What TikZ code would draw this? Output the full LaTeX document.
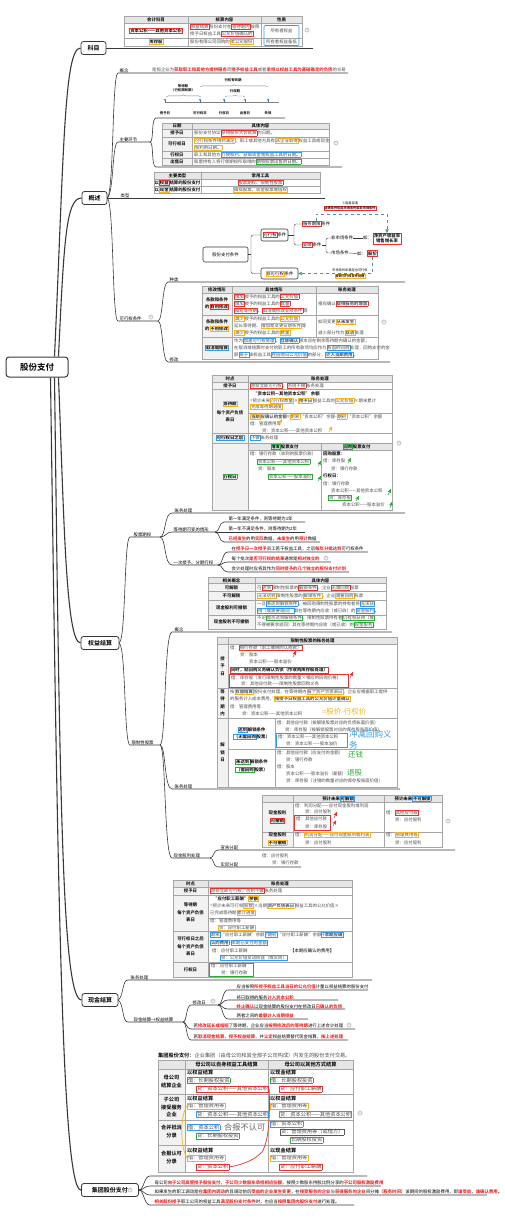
\documentclass[tikz,border=0pt]{standalone}
\usepackage{fontspec}
\setmainfont{Noto Sans CJK SC}[BoldFont={Noto Sans CJK SC Bold}]
\usetikzlibrary{positioning, arrows, decorations.pathreplacing}
\definecolor{lineclr}{HTML}{383838}
\definecolor{gridclr}{HTML}{A6A6A6}
\definecolor{hdrclr}{HTML}{E6E6E6}
\definecolor{colclr}{HTML}{F2F2F2}
\definecolor{txtgray}{HTML}{4A4A4A}
\definecolor{hlred}{HTML}{E8312B}
\definecolor{txred}{HTML}{F01010}
\definecolor{hlora}{HTML}{F5B41E}
\definecolor{hlblu}{HTML}{2E9BEF}
\definecolor{hlgrn}{HTML}{2FA83A}
\definecolor{dashclr}{HTML}{4F8E9C}
\newcommand\fs{\fontsize{4.4}{5.2}\selectfont}
\newcommand\fg{\fontsize{5.2}{6}\selectfont}
\newcommand\bx[2]{{\colorlet{bxsave}{.}\setlength\fboxsep{.35pt}\setlength\fboxrule{.45pt}\color{#1}\fbox{\color{bxsave}#2}}}
\newcommand\rb[1]{{\bfseries\color{txred}#1}}
\tikzset{
  root/.style={draw=lineclr, line width=1pt, rounded corners=3pt, fill=white, font=\fontsize{8.5}{9}\selectfont\bfseries, minimum width=62pt, minimum height=20pt},
  topic/.style={draw=lineclr, line width=.8pt, rounded corners=2.5pt, fill=white, font=\fontsize{6}{7}\selectfont\bfseries, minimum height=13pt, inner xsep=3pt},
  mainline/.style={line width=1.1pt, draw=lineclr},
  subline/.style={line width=.6pt, draw=lineclr},
  lab/.style={anchor=south west, inner sep=.4pt, font=\fs, text=black},
  tx/.style={anchor=west, inner sep=0pt, font=\fs, text=txtgray},
  hd/.style={inner sep=0pt, font=\fs\bfseries, text=black},
  vt/.style={inner sep=0pt, align=center, font=\fontsize{4.4}{7.5}\selectfont\bfseries},
  cell/.style={draw=gridclr, line width=.35pt},
  cnode/.style={draw=lineclr, line width=.6pt, rounded corners=2pt, fill=white, font=\fs, inner sep=0pt},
  note/.style={inner sep=0pt, anchor=west},
  mk/.style={circle, fill=gray!30, draw=gray!55, line width=.3pt, minimum size=4.4pt, inner sep=0pt,
    path picture={\draw[white, line width=.6pt] ([xshift=-1.3pt]path picture bounding box.center) -- ([xshift=1.3pt]path picture bounding box.center);}},
  hlarrow/.style={->, >=stealth', line width=.5pt}
}
\begin{document}
\begin{tikzpicture}[x=1pt, y=-1pt]
\useasboundingbox (0,0) rectangle (504,1219);

% root and main topics
\node[root] (root) at (37,367) {股份支付};
\node[topic, minimum width=25pt] (kemu) at (93.5,48) {科目};
\node[topic, minimum width=25pt] (gaishu) at (94.5,198) {概述};
\node[topic, minimum width=38pt] (quanyi) at (100,643) {权益结算};
\node[topic, minimum width=36pt] (xianjin) at (100,1000) {现金结算};
\node[topic, minimum width=57pt, anchor=west] (jituan) at (81,1190) {集团股份支付\hspace{6pt}};

\draw[mainline] ([xshift=-14pt]root.north east) .. controls (64,150) and (64,48) .. (kemu.west);
\draw[mainline] ([xshift=-10pt]root.north east) .. controls (64,240) and (66,198) .. (gaishu.west);
\draw[mainline] ([xshift=-10pt]root.south east) .. controls (64,520) and (66,643) .. (quanyi.west);
\draw[mainline] ([xshift=-14pt]root.south east) .. controls (60,800) and (62,1000) .. (xianjin.west);
\draw[mainline] ([xshift=-18pt]root.south east) .. controls (58,900) and (62,1190) .. (jituan.west);

% ---------------- 科目
\draw[subline] (kemu.east) -- (313,48);
\fill[hdrclr] (124,16) rectangle (302,23);
\draw[cell] (124,16) rectangle (302,46) (124,23) -- (302,23) (124,38) -- (302,38) (188,16) -- (188,46) (261,16) -- (261,46);
\node[hd] (k1) at (156,19.5) {会计科目};
\node[hd] (k2) at (224.5,19.5) {核算内容};
\node[hd] (k3) at (281.5,19.5) {性质};
\node[hd] (k4) at (156,30.5) {\bx{hlred}{资本公积——其他资本公积}};
\node[tx] (k5) at (190,27) {\bx{hlred}{权益结算}股份支付在\bx{hlred}{等待期内}按照};
\node[tx] (k6) at (190,34) {授予日权益工具\bx{hlred}{公允价值确认的}};
\node[tx, anchor=center] (k7) at (281.5,30.5) {所有者权益};
\node[hd] (k8) at (156,42) {\bx{hlora}{库存股}};
\node[tx] (k9) at (190,42) {股份有限公司回购的\bx{hlora}{本公司股份}};
\node[tx, anchor=center] (k10) at (281.5,42) {所有者权益备抵};
\draw[hlblu, line width=.6pt, rounded corners=1pt] (264,25.5) rectangle (299,45.5);
\node[mk] (m1) at (307,30) {};

% ---------------- 概述
\draw[subline] (gaishu.east) .. controls (114,190) and (112,73) .. (118,73) -- (348,73);
\draw[subline] (gaishu.east) .. controls (114,192) and (112,142) .. (118,142) -- (150,142);
\draw[subline] (gaishu.east) -- (325,198);
\draw[subline] (gaishu.east) .. controls (114,205) and (112,321) .. (118,321) -- (158,321);
\draw[subline] (150,142) .. controls (154,142) and (151,118) .. (156,118) -- (285,118);
\draw[subline] (150,142) .. controls (154,142) and (151,167) .. (156,167) -- (342,167);
\draw[subline] (158,321) .. controls (163,321) and (162,282) .. (168,282) -- (405,282);
\draw[subline] (158,321) .. controls (163,321) and (162,362) .. (168,362) -- (390,362);
\node[lab] (gn) at (119,73) {概念};
\node[tx] (gnt) at (152,69.5) {是指企业为\rb{获取职工和其他方提供服务}而\rb{授予权益工具}或者\rb{承担以权益工具为基础确定的负债}的交易};
\node[lab] (zyhj) at (119,142) {主要环节};
\node[lab] (lx) at (120,198) {类型};
\node[lab] (kxtj) at (119,321) {可行权条件};
\node[mk] (m2) at (151,317) {};
\node[lab] (zl) at (169,282) {种类};
\node[lab] (xg) at (169,362) {修改};

% timeline
\draw[gray, line width=.4pt] (165,102) -- (279,102);
\foreach \x/\t [count=\i] in {165/授予日, 200/可行权日, 224/行权日, 245/出售日, 268/失效}{
  \draw[hlblu!70!black, line width=.4pt] (\x,102) -- (\x,100);
  \fill[hlblu!80!gray] (\x,99.7) circle (1.1);
  \node[font=\fontsize{3.4}{4}\selectfont\bfseries, inner sep=0pt] (tl\i) at (\x,113) {\t};
}
\draw[decorate, decoration={brace, amplitude=2.2pt}, gray] (166,97) -- (201,97);
\node[font=\fontsize{3.4}{4.2}\selectfont\bfseries, align=center, inner sep=0pt] (br1) at (183,88) {等待期\\（行权限制期）};
\draw[decorate, decoration={brace, amplitude=2.2pt}, gray] (200,87) -- (268,87);
\node[font=\fontsize{3.4}{4.2}\selectfont\bfseries, inner sep=0pt] (br2) at (233,80) {行权有效期};
\draw[decorate, decoration={brace, amplitude=2pt}, gray] (225,97) -- (245,97);
\node[font=\fontsize{3.4}{4.2}\selectfont\bfseries, inner sep=0pt] (br3) at (235,91.5) {行权期};

% 日期 table
\fill[hdrclr] (162,123) rectangle (329,129.5);
\fill[colclr] (162,129.5) rectangle (192,165);
\draw[cell] (162,123) rectangle (329,165) (162,129.5) -- (329,129.5) (162,137) -- (329,137) (162,151) -- (329,151) (162,158) -- (329,158) (192,123) -- (192,165);
\node[hd] (d1) at (177,126.3) {日期};
\node[hd] (d2) at (260.5,126.3) {具体内容};
\node[hd] (d3) at (177,133.3) {授予日};
\node[hd] (d4) at (177,144) {可行权日};
\node[hd] (d5) at (177,154.5) {行权日};
\node[hd] (d6) at (177,161.5) {出售日};
\node[tx] (d7) at (194,133.3) {股份支付协议\bx{hlred}{获得股东大会批准}的日期。};
\node[tx] (d8) at (194,140.5) {\bx{hlora}{可行权条件得到满足}、职工或其他方具有\bx{hlora}{从企业取得}权益工具或现金};
\node[tx] (d9) at (194,147.5) {\bx{hlora}{权利的日期。}};
\node[tx] (d10) at (194,154.5) {职工和其他方\bx{hlblu}{行使权利、获取现金或权益工具的日期。}};
\node[tx] (d11) at (194,161.5) {股票持有人将行使期权所取得的\bx{hlgrn}{期权股票出售的日期。}};
\node[mk] (m3) at (336,143) {};

% 类型 table
\fill[hdrclr] (154,172) rectangle (320,179);
\draw[cell] (154,172) rectangle (320,193) (154,179) -- (320,179) (154,186) -- (320,186) (201,172) -- (201,193);
\node[hd] (y1) at (177.5,175.5) {主要类型};
\node[hd] (y2) at (260.5,175.5) {常用工具};
\node[hd] (y3) at (177.5,182.5) {以\bx{hlred}{权益}结算的股份支付};
\node[hd] (y4) at (177.5,189.5) {以\bx{hlora}{现金}结算的股份支付};
\node[tx, anchor=center] (y5) at (260.5,182.5) {\bx{hlred}{股票期权、限制性股票}};
\node[tx, anchor=center] (y6) at (260.5,189.5) {\bx{hlora}{模拟股票、现金股票增值权}};

% 股份支付条件
\node[cnode, minimum width=45pt, minimum height=15pt] (tj) at (225.5,254.5) {股份支付条件};
\node[cnode, minimum width=27pt, minimum height=12pt] (kx) at (274.5,235) {\bx{hlred}{可行权}条件};
\node[cnode, minimum width=37pt, minimum height=11pt] (fkx) at (279.5,273.5) {\bx{hlora}{非可行权}条件};
\node[tx, text=black] (fw) at (302,224) {\bx{hlred}{服务期限}条件};
\node[tx, text=black] (yj) at (302,245) {\bx{hlred}{业绩}条件};
\node[tx, text=black] (fsc) at (331,238) {非市场条件};
\node[tx, text=black] (sc) at (331,253) {市场条件};
\node[tx, text=black] (ru1) at (363,238) {如：};
\node[tx, text=black] (ru2) at (357,253.5) {如：};
\node[draw=hlred, line width=.6pt, font=\fs\bfseries, align=center, inner sep=.7pt] (jzc) at (387,238.5) {净资产收益率\\销售增长率};
\node[draw=hlred, line width=.6pt, font=\fs\bfseries, inner sep=.7pt] (gj) at (372.5,253.5) {股价};
\draw[lineclr, line width=.4pt] (tj.east) -- (251,254.5) coordinate (tjc);
\draw[lineclr, line width=.4pt, rounded corners=2pt] (tjc) |- (kx.west);
\draw[lineclr, line width=.4pt, rounded corners=2pt] (tjc) |- (fkx.west);
\draw[lineclr, line width=.4pt] (kx.east) -- (294,235) coordinate (kxc);
\draw[lineclr, line width=.4pt, rounded corners=2pt] (kxc) |- (fw.west);
\draw[lineclr, line width=.4pt, rounded corners=2pt] (kxc) |- (yj.west);
\draw[lineclr, line width=.4pt] (yj.east) -- (326,245) coordinate (yjc);
\draw[lineclr, line width=.4pt, rounded corners=2pt] (yjc) |- (fsc.west);
\draw[lineclr, line width=.4pt, rounded corners=2pt] (yjc) |- (sc.west);
\draw[lineclr, line width=.4pt] (fsc.east) -- (ru1.west);
\draw[lineclr, line width=.4pt] (sc.east) -- (ru2.west);
\draw[dashed, dashclr, line width=.45pt, ->, >=stealth'] (fw.north) -- ++(0,-7) -| (jzc.north);
\draw[dashed, dashclr, line width=.45pt, ->, >=stealth'] (gj.south) |- (fkx.east);
\node[font=\fontsize{3.2}{4}\selectfont, inner sep=0pt] (q1) at (350,203.5) {①容易混淆};
\node[draw=hlred, line width=.5pt, font=\fontsize{3.2}{4}\selectfont\bfseries, inner sep=.6pt] (q2) at (350,208.5) {业绩条件包括市场条件和非市场条件};
\node[font=\fontsize{3.2}{4}\selectfont, inner sep=0pt] (q3) at (350,270) {市场条件未满足也可行权};
\node[draw=hlora, line width=.5pt, font=\fontsize{3.2}{4}\selectfont\bfseries, inner sep=.6pt] (q4) at (350,276) {视同可行权条件处理};

% 修改 table
\fill[hdrclr] (202,286) rectangle (378,293);
\fill[colclr] (202,293) rectangle (232,359);
\draw[cell] (202,286) rectangle (378,359) (202,293) -- (378,293) (202,315) -- (378,315) (202,337) -- (378,337) (232,286) -- (232,359) (316,286) -- (316,337);
\node[hd] (g1) at (217,289.5) {修改情形};
\node[hd] (g2) at (274,289.5) {具体情形};
\node[hd] (g3) at (347,289.5) {账务处理};
\node[vt] (g4) at (217,303.5) {条款和条件\\的\bx{hlred}{有利修改}};
\node[tx] (g5) at (234,296.5) {\bx{hlred}{增加}授予的权益工具的\bx{hlred}{公允价值}};
\node[tx] (g6) at (234,303.5) {\bx{hlred}{增加}授予的权益工具的\bx{hlred}{数量}};
\node[tx] (g7) at (234,310.5) {\bx{hlred}{缩短等待期}、\bx{hlred}{取消或修改业绩条件}等};
\node[tx] (g8) at (318,303.5) {相应确认\bx{hlred}{\textbf{取得服务的增加}}};
\node[vt] (g9) at (217,325.5) {条款和条件\\的\bx{hlora}{不利修改}};
\node[tx] (g10) at (234,318.5) {\bx{hlora}{减少}授予的权益工具的\bx{hlora}{公允价值}};
\node[tx] (g11) at (234,325.5) {延长等待期、\bx{hlora}{增加或变更业绩条件}等};
\node[tx] (g12) at (234,333) {\bx{hlora}{减少}授予的权益工具的\bx{hlora}{数量}};
\node[tx] (g13) at (318,322) {如同变更\bx{hlora}{\textbf{从未发生}}};
\node[tx] (g14) at (318,333) {减少部分作为\bx{hlora}{\textbf{取消}}处理};
\node[hd] (g15) at (217,348) {\bx{hlblu}{取消或结算}};
\node[tx] (g16) at (234,340.5) {作为\bx{hlblu}{加速可行权处理}，\bx{hlblu}{\textbf{立即确认}}原本应在剩余等待期内确认的金额；};
\node[tx] (g17) at (234,348) {在取消或结算时支付给职工的所有款项均应作为\bx{hlblu}{权益的回购}处理，回购支付的金};
\node[tx] (g18) at (234,355) {额\bx{hlblu}{高于}该权益工具\bx{hlblu}{在回购日公允价值}的部分，\bx{hlblu}{\textbf{计入当期费用}}。};
\node[mk] (m4) at (384,322) {};

% ---------------- 权益结算
\draw[subline] (quanyi.east) .. controls (126,636) and (124,537) .. (130,537) -- (160,537);
\draw[subline] (quanyi.east) .. controls (126,650) and (124,745) .. (130,745) -- (160,745);
\node[lab] (gpqq) at (133,537) {股票期权};
\node[lab] (xzxgp) at (131,745) {限制性股票};
\draw[subline] (160,537) .. controls (166,537) and (164,513) .. (172,513) -- (405,513);
\draw[subline] (160,537) .. controls (166,537) and (166,532) .. (172,532) -- (215,532);
\draw[subline] (160,537) .. controls (166,537) and (164,565) .. (172,565) -- (218,565);
\node[lab] (zw1) at (174,513) {账务处理};
\node[lab] (dd) at (173,532) {等待期可变的情形};
\node[lab] (yc) at (173,565) {一次授予、分期行权};
\draw[subline] (215,532) .. controls (220,532) and (219,522) .. (224,522) -- (305,522);
\draw[subline] (215,532) -- (305,532);
\draw[subline] (215,532) .. controls (220,532) and (219,542) .. (224,542) -- (320,542);
\node[lab] (dd1) at (228,522) {第一年满足条件，则等待期为1年};
\node[lab] (dd2) at (228,532) {第一年不满足条件，则等待期为2年};
\node[lab] (dd3) at (228,542) {\rb{已经发生}的用\rb{实际}数据，\rb{未发生}的用\rb{预计}数据};
\draw[subline] (218,565) .. controls (223,565) and (222,552) .. (228,552) -- (368,552);
\draw[subline] (218,565) .. controls (223,565) and (222,562) .. (228,562) -- (331,562);
\draw[subline] (218,565) .. controls (223,565) and (222,572) .. (228,572) -- (349,572);
\node[lab] (yc1) at (231,552) {在\rb{授予日一次授予}员工若干权益工具，之后\rb{每年分批达到}可行权条件};
\node[lab] (yc2) at (231,562) {每个批次\rb{是否可行权的结果}通常是\rb{相对独立的}};
\node[mk] (m5) at (326,558) {};
\node[lab] (yc3) at (231,572) {会计处理时应将其作为\rb{同时授予的几个独立的股份支付计划}};

% 权益结算 账务处理 table
\fill[hdrclr] (212,375) rectangle (392,382);
\fill[colclr] (212,382) rectangle (248,510);
\fill[hdrclr] (248,443) rectangle (392,450);
\draw[cell] (212,375) rectangle (392,510) (212,382) -- (392,382) (212,389) -- (392,389) (212,433) -- (392,433) (212,443) -- (392,443) (248,413) -- (392,413) (248,450) -- (392,450) (248,375) -- (248,510) (321,443) -- (321,510);
\node[hd] (e1) at (230,378.5) {时点};
\node[hd] (e2) at (320,378.5) {账务处理};
\node[hd] (e3) at (230,385.5) {授予日};
\node[tx] (e4) at (250,385.5) {\bx{hlred}{除非立即可行权}，\bx{hlred}{否则不做}账务处理};
\node[hd] (e5) at (230,404) {\bx{hlora}{等待期}};
\node[hd] (e6) at (230,412.5) {每个资产负债};
\node[hd] (e7) at (230,419.5) {表日};
\node[hd, anchor=west] (e8) at (253,393.5) {“资本公积—其他资本公积” 余额};
\node[tx] (e9) at (250,400.5) {=预计未来\bx{hlora}{可行权数量}×\bx{hlora}{\textbf{授予日}}权益工具的\bx{hlora}{公允价值}×期末累计};
\node[tx] (e10) at (250,407) {\bx{hlora}{完成等待期进度}};
\node[tx] (e11) at (250,416.5) {\bx{hlora}{\textbf{当期}}\textbf{应确认的金额=}\bx{hlora}{期末}“资本公积”余额-\bx{hlora}{期初}“资本公积”余额};
\node[tx] (e12) at (250,423.5) {借：管理费用等};
\node[tx] (e13) at (262,430.5) {贷：资本公积——其他资本公积};
\draw[hlora, hlarrow] (278,425) -- (282,419.5);
\draw[hlora, hlarrow] (329,432) -- (332,426.5);
\node[hd] (e14) at (230,438) {\bx{hlblu}{可行权日之后}};
\node[tx] (e15) at (250,438) {\bx{hlblu}{不做}账务处理};
\node[mk] (m6) at (399,443) {};
\node[hd] (e16) at (230,476.5) {\bx{hlgrn}{行权日}};
\node[hd] (e17) at (284.5,446.5) {\bx{hlgrn}{增发}股票支付};
\node[hd] (e18) at (356.5,446.5) {\bx{hlgrn}{回购}股票支付};
\node[tx] (e19) at (250,453.5) {借：银行存款（收到的股票价款）};
\node[tx] (e20) at (257,461.5) {\bx{hlgrn}{资本公积——其他资本公积}};
\node[tx] (e21) at (258,469) {贷：股本};
\node[tx] (e22) at (268,477) {\bx{hlgrn}{资本公积——股本溢价}};
\node[tx, text=black] (e23) at (323,453.5) {\textbf{回购股票：}};
\node[tx] (e24) at (323,461) {借：库存股};
\node[tx] (e25) at (331,468.5) {贷：银行存款};
\node[tx, text=black] (e26) at (323,476) {\textbf{行权日：}};
\node[tx] (e27) at (323,483.5) {借：银行存款};
\node[tx] (e28) at (331,491) {资本公积——其他资本公积};
\node[tx] (e29) at (328,498) {\bx{hlgrn}{贷：库存股}};
\node[tx] (e30) at (342,505) {资本公积——股本溢价};
\draw[hlgrn, hlarrow] (318,466) -- (321,461);
\draw[hlgrn, hlarrow] (318,481) -- (321,476);
\draw[hlgrn, hlarrow] (348,463) -- (351,458);
\draw[hlgrn, hlarrow] (388,495) -- (391,489);
\draw[hlgrn, hlarrow] (356,501) -- (359,496);
\draw[hlgrn, hlarrow] (390,508) -- (392,502);

% 限制性股票 branches
\draw[subline] (160,745) .. controls (166,745) and (164,632) .. (172,632) -- (392,632);
\draw[subline] (160,745) .. controls (166,745) and (164,789) .. (172,789) -- (400,789);
\draw[subline] (160,745) .. controls (166,745) and (164,858) .. (172,858) -- (210,858);
\node[lab] (gn2) at (174,632) {概念};
\node[lab] (zw2) at (174,789) {账务处理};
\node[lab] (xjgl) at (173,858) {现金股利处理};
\draw[subline] (210,858) .. controls (214,858) and (213,850) .. (218,850) -- (455,850);
\draw[subline] (210,858) .. controls (214,858) and (213,867) .. (218,867) -- (301,867);
\node[lab] (xgfp) at (220,850) {宣告分配};
\node[lab] (sjfp) at (220,867) {实际分配};
\node[tx] (sj1) at (262,856) {借：应付股利};
\node[tx] (sj2) at (272,863) {贷：银行存款};

% 相关概念 table
\fill[hdrclr] (208,577) rectangle (386,583.5);
\fill[colclr] (208,583.5) rectangle (255,629);
\draw[cell] (208,577) rectangle (386,629) (208,583.5) -- (386,583.5) (208,591.5) -- (386,591.5) (208,600) -- (386,600) (208,615) -- (386,615) (255,577) -- (255,629);
\node[hd] (c1) at (231.5,580.3) {相关概念};
\node[hd] (c2) at (320.5,580.3) {具体内容};
\node[hd] (c3) at (231.5,587.5) {可解锁};
\node[hd] (c4) at (231.5,596) {不可解锁};
\node[hd] (c5) at (231.5,607.5) {现金股利可撤销};
\node[hd] (c6) at (231.5,622) {现金股利不可撤销};
\node[tx] (c7) at (257,587.5) {可\bx{hlred}{达到}限制性股票的\bx{hlred}{解锁条件}，企业\bx{hlred}{无需回购}股票};
\node[tx] (c8) at (257,596) {\bx{hlora}{无法达到}限制性股票的\bx{hlora}{解锁条件}，企业\bx{hlora}{需要回购}股票};
\node[tx] (c9) at (257,603.5) {一旦\bx{hlblu}{未达到解锁条件}，被回购限制性股票的持有者将\bx{hlblu}{无法获}};
\node[tx] (c10) at (257,611) {\bx{hlblu}{得（或需要退回）}其在等待期内应收（或已收）的\bx{hlblu}{现金股利}。};
\node[tx] (c11) at (257,618) {不论\bx{hlgrn}{是否达到解锁条件}，限制性股票持有者\bx{hlgrn}{仍有权获得（或}};
\node[tx] (c12) at (257,625) {不得被要求退回）其在等待期内应收（或已收）的\bx{hlgrn}{现金股利}。};

% 限制性股票 账务处理 table
\fill[hdrclr] (217,637) rectangle (397,644);
\fill[colclr] (217,644) rectangle (228,787);
\draw[cell] (217,637) rectangle (397,787) (217,644) -- (397,644) (217,688) -- (397,688) (217,718) -- (397,718) (228,749) -- (397,749) (228,637) -- (228,787) (275,718) -- (275,787);
\node[hd] (r1) at (312.5,640.5) {限制性股票的账务处理};
\node[vt] (r2) at (222.5,666) {授\\予\\日};
\node[tx] (r3) at (230,648) {借：\bx{hlred}{银行存款（职工缴纳的认购款）}};
\node[tx] (r4) at (240,655) {贷：股本};
\node[tx] (r5) at (249,662) {资本公积——股本溢价};
\node[tx, text=black] (r6) at (230,670) {\bx{hlred}{\textbf{同时，就回购义务确认负债（作收购库存股处理）}}};
\node[tx] (r7) at (231,677.5) {借：库存股（发行限制性股票的数量×相应的回购价格）};
\node[tx] (r8) at (241,684) {贷：其他应付款——限制性股票回购义务};
\draw[hlred, line width=.6pt] (229.5,673.8) rectangle (348,687.3);
\draw[hlred, hlarrow] (293,657) -- (296,651);
\draw[hlred, hlarrow] (350,678) -- (353,672);
\node[vt] (r9) at (222.5,703) {等\\待\\期\\内};
\node[tx] (r10) at (230,692) {按\bx{hlora}{\textbf{权益结算}}股份支付处理，在等待期内\bx{hlora}{每个资产负债表日}，企业应根据职工提供};
\node[tx] (r11) at (230,699) {的服务计入成本费用，\bx{hlora}{\textbf{按授予日权益工具的公允价值计量确认}}};
\node[tx] (r12) at (230,706.5) {借：管理费用等};
\node[tx] (r13) at (242,714) {贷：资本公积——其他资本公积};
\node[note, text=hlora, font=\fontsize{7.5}{8}\selectfont] (r14) at (322,712) {=股价-行权价};
\node[vt] (r15) at (222.5,752.5) {解\\锁\\日};
\node[hd] (r16) at (251.5,729.5) {\bx{hlblu}{达到}解锁条件};
\node[hd] (r17) at (251.5,737) {\bx{hlblu}{（无需回购}股票）};
\node[tx] (r18) at (277,722.5) {借：其他应付款（按解锁股票对应的负债账面价值）};
\node[tx] (r19) at (285,729.5) {贷：库存股（按解锁股票对应的库存股账面价值）};
\node[tx] (r20) at (278,736.5) {借：资本公积——其他资本公积};
\node[tx] (r21) at (286,743.5) {贷：资本公积——股本溢价};
\draw[hlblu, line width=.6pt] (276.5,733) rectangle (347,747);
\node[note, text=hlblu, font=\fontsize{8.5}{9}\selectfont] (r22) at (349,734) {冲减回购义};
\node[note, text=hlblu, font=\fontsize{8.5}{9}\selectfont] (r23) at (349,745.5) {务};
\node[hd] (r24) at (251.5,762) {\bx{hlgrn}{未达到}解锁条件};
\node[hd] (r25) at (251.5,770) {\bx{hlgrn}{（需回购}股票）};
\node[tx] (r26) at (277,753) {借：其他应付款（应支付的金额）};
\node[tx] (r27) at (286,760) {贷：银行存款};
\node[tx] (r28) at (277,767) {借：股本};
\node[tx] (r29) at (286,774) {资本公积——股本溢价（差额）};
\node[tx] (r30) at (286,781) {贷：库存股（注销的数量对应的库存股账面价值）};
\node[note, text=hlgrn, font=\fontsize{7.5}{8}\selectfont] (r31) at (348,755) {还钱};
\node[note, text=hlgrn, font=\fontsize{7.5}{8}\selectfont] (r32) at (347,773) {退股};

% 现金股利 table
\fill[hdrclr] (262,795) rectangle (442,802);
\fill[colclr] (262,802) rectangle (293,847);
\draw[cell] (262,795) rectangle (442,847) (262,802) -- (442,802) (262,832) -- (442,832) (293,795) -- (293,847) (384,795) -- (384,847);
\node[hd] (v1) at (338.5,798.5) {预计未来\bx{hlblu}{可解锁}};
\node[hd] (v2) at (413,798.5) {预计未来\bx{hlblu}{不可解锁}};
\node[hd] (v3) at (277.5,813) {现金股利};
\node[hd] (v4) at (277.5,820.5) {\bx{hlred}{可撤销}};
\node[tx] (v5) at (295,805.5) {借：利润分配——应付现金股利或利润};
\node[tx] (v6) at (305,812) {贷：应付股利};
\node[tx] (v7) at (296,819) {借：其他应付款};
\node[tx] (v8) at (305,826.5) {贷：库存股};
\draw[hlred, line width=.6pt] (294.5,815.3) rectangle (330,830);
\draw[hlred, hlarrow] (334,818) -- (337,812);
\draw[hlred, hlarrow] (333,826) -- (336,820.5);
\node[tx] (v9) at (386,812.5) {借：\bx{hlred}{其他应付款}};
\node[tx] (v10) at (395,820) {贷：应付股利};
\node[hd] (v11) at (277.5,835) {现金股利};
\node[hd] (v12) at (277.5,842.5) {\bx{hlora}{不可撤销}};
\node[tx] (v13) at (295,835) {借：\bx{hlora}{利润分配——应付现金股利或利润}};
\node[tx] (v14) at (305,842.5) {贷：应付股利};
\node[tx] (v15) at (386,835) {借：\bx{hlora}{管理费用等}};
\node[tx] (v16) at (395,842.5) {贷：应付股利};
\node[mk] (m7) at (448,821) {};

% ---------------- 现金结算
\draw[subline] (xianjin.east) .. controls (124,995) and (122,980) .. (128,980) -- (372,980);
\draw[subline] (xianjin.east) .. controls (124,1005) and (122,1022) .. (128,1022) -- (183,1022);
\node[lab] (zw3) at (130,980) {账务处理};
\node[lab] (xq) at (133,1022) {现金结算→权益结算};
\draw[subline] (183,1022) .. controls (187,1022) and (186,1005) .. (191,1005) -- (218,1005);
\draw[subline] (183,1022) .. controls (187,1022) and (186,1029) .. (191,1029) -- (355,1029);
\draw[subline] (183,1022) .. controls (187,1022) and (186,1040) .. (191,1040) -- (348,1040);
\node[lab] (xgr) at (192,1005) {修改日};
\node[mk] (m8) at (213,1001) {};
\node[lab] (x5) at (193,1029) {若\rb{修改延长或缩短}了等待期，企业应当\rb{按照修改后的等待期}进行上述会计处理};
\node[mk] (m9) at (349,1025) {};
\node[lab] (x6) at (193,1040) {若\rb{取消现金结算}，\rb{授予权益结算}，并\rb{认定}权益结算替代现金结算，\rb{按上述处理}};
\draw[subline] (218,1005) .. controls (223,1005) and (222,990) .. (228,990) -- (368,990);
\draw[subline] (218,1005) .. controls (223,1005) and (222,1000) .. (228,1000) -- (338,1000);
\draw[subline] (218,1005) .. controls (223,1005) and (222,1009) .. (228,1009) -- (345,1009);
\draw[subline] (218,1005) .. controls (223,1005) and (222,1019) .. (228,1019) -- (308,1019);
\node[lab] (x1) at (236,990) {应当按照\rb{所授予权益工具当日的公允价值}计量以权益结算的股份支付};
\node[lab] (x2) at (236,1000) {将已取得的服务\rb{计入资本公积}};
\node[lab] (x3) at (236,1009) {\rb{终止确认}以现金结算的股份支付在修改日\rb{已确认的负债}};
\node[lab] (x4) at (236,1019) {两者之间的\rb{差额计入当期损益}};

% 现金结算 table
\fill[hdrclr] (173,880) rectangle (352,887);
\fill[colclr] (173,887) rectangle (208,977);
\draw[cell] (173,880) rectangle (352,977) (173,887) -- (352,887) (173,895) -- (352,895) (173,931) -- (352,931) (173,962) -- (352,962) (208,918) -- (352,918) (208,880) -- (208,977);
\node[hd] (h1) at (190.5,883.5) {时点};
\node[hd] (h2) at (280,883.5) {账务处理};
\node[hd] (h3) at (190.5,891) {授予日};
\node[tx] (h4) at (210,891) {\bx{hlred}{除非立即可行权，否则不做}账务处理};
\node[hd] (h5) at (190.5,905) {等待期};
\node[hd] (h6) at (190.5,912.5) {每个资产负债};
\node[hd] (h7) at (190.5,919.5) {表日};
\node[hd, anchor=west] (h8) at (213,898.5) {“应付职工薪酬”\bx{hlora}{余额}};
\node[tx] (h9) at (210,905.5) {=预计未来可行权\bx{hlora}{股数}×当期\bx{hlora}{\textbf{资产负债表日}}权益工具的公允价值×};
\node[tx] (h10) at (210,912.5) {已完成等待期\bx{hlora}{累计进度}};
\node[tx] (h11) at (210,921) {借：管理费用等};
\node[tx] (h12) at (218,928) {\bx{hlora}{贷：应付职工薪酬}};
\node[hd] (h13) at (190.5,939) {可行权日之后};
\node[hd] (h14) at (190.5,946.5) {每个资产负债};
\node[hd] (h15) at (190.5,953.5) {表日};
\node[tx] (h16) at (210,935) {\bx{hlblu}{期末}“应付职工薪酬”余额\bx{hlblu}{=期初}“应付职工薪酬”余额\bx{hlblu}{\textbf{+本期应确}}};
\node[tx] (h17) at (210,942.5) {\bx{hlblu}{\textbf{认的费用}}-\bx{hlblu}{本期已支付的金额}};
\node[tx] (h18) at (212,950.5) {借：应付职工薪酬};
\node[tx, text=black] (h19) at (290,950.5) {【本期应确认的费用】};
\node[tx] (h20) at (220,957.5) {\bx{hlblu}{贷：公允价值变动损益（或反向）}};
\node[hd] (h21) at (190.5,969.5) {行权日};
\node[tx] (h22) at (211,966) {借：应付职工薪酬};
\node[tx] (h23) at (221,972.5) {贷：银行存款};
\draw[hlgrn, line width=.6pt] (209.5,962.8) rectangle (253,976.3);

% ---------------- 集团股份支付
\node[mk] (m10) at (130,1190) {};
\draw[subline] (jituan.east) .. controls (144,1190) and (144,1176) .. (150,1176) -- (367,1176);
\draw[subline] (jituan.east) .. controls (144,1190) and (144,1186) .. (150,1186) -- (381,1186);
\draw[subline] (jituan.east) .. controls (144,1190) and (144,1195) .. (150,1195) -- (487,1195);
\draw[subline] (jituan.east) .. controls (144,1190) and (144,1205) .. (150,1205) -- (354,1205);
\node[lab] (j1) at (154,1186) {母公司\rb{向子公司高管授予股份支付}，\rb{子公司少数股东承担相应份额}，按照少数股东持股比例分享的\rb{子公司股权激励费用}};
\node[lab] (j2) at (154,1195) {如果发生的职工调动是\rb{在集团内调动}的且调动前后\rb{受益的企业发生变更}，在\rb{接受服务的企业}与\rb{获得服务的企业}间分摊\rb{（服务时间）}该期间的股权激励费用，即\rb{谁受益}，\rb{谁确认费用}。};
\node[lab] (j3) at (154,1205) {\rb{相关股份授予}职工公司的权益工具\rb{满足股份支付条件}时，也应当\rb{按照集团内股份支付}进行处理。};
\node[note, font=\fg, text=txtgray] (jt) at (158,1056) {\textbf{\color{black}集团股份支付：}企业集团（由母公司和其全部子公司构成）内发生的股份支付交易。};

\fill[hdrclr] (158,1060) rectangle (353,1069);
\fill[colclr] (158,1069) rectangle (185,1172);
\draw[cell] (158,1060) rectangle (353,1172) (158,1069) -- (353,1069) (158,1094) -- (353,1094) (158,1120) -- (353,1120) (158,1145) -- (353,1145) (185,1060) -- (185,1172) (268,1060) -- (268,1172);
\begin{scope}[every node/.append style={font=\fg}]
\node[hd, font=\fg\bfseries] (t1) at (226.5,1064.5) {母公司以自身权益工具结算};
\node[hd, font=\fg\bfseries] (t2) at (310.5,1064.5) {母公司以其他方式结算};
\node[vt, font=\fontsize{5.2}{8}\selectfont\bfseries] (t3) at (171.5,1082) {母公司\\结算企业};
\node[tx, text=black, font=\fg\bfseries] (t4) at (187,1072.5) {以权益结算};
\node[tx, font=\fg] (t5) at (187,1080.5) {\bx{hlgrn}{借：长期股权投资}};
\node[tx, font=\fg] (t6) at (196,1089) {\bx{hlred}{贷：资本公积——其他资本公积}};
\node[tx, text=black, font=\fg\bfseries] (t7) at (270,1072.5) {以现金结算};
\node[tx, font=\fg] (t8) at (270,1080.5) {\bx{hlgrn}{借：长期股权投资}};
\node[tx, font=\fg] (t9) at (279,1089) {\bx{hlred}{贷：应付职工薪酬}};
\node[vt, font=\fontsize{5.2}{7.8}\selectfont\bfseries] (t10) at (171.5,1107) {子公司\\接受服务\\企业};
\node[tx, text=black, font=\fg\bfseries] (t11) at (187,1098) {以权益结算};
\node[tx, font=\fg] (t12) at (187,1106) {\bx{hlora}{借：管理费用等}};
\node[tx, font=\fg] (t13) at (196,1114.5) {\bx{hlblu}{贷：资本公积——其他资本公积}};
\node[tx, text=black, font=\fg\bfseries] (t14) at (270,1098) {以权益结算};
\node[tx, font=\fg] (t15) at (270,1106) {\bx{hlora}{借：管理费用等}};
\node[tx, font=\fg] (t16) at (279,1114.5) {\bx{hlblu}{贷：资本公积——其他资本公积}};
\node[vt, font=\fontsize{5.2}{8}\selectfont\bfseries] (t17) at (171.5,1132) {合并抵消\\分录};
\node[tx, font=\fg] (t18) at (187,1127.5) {\bx{hlblu}{借：资本公积}};
\node[tx, font=\fg] (t19) at (196,1136) {\bx{hlgrn}{贷：长期股权投资}};
\node[note, text=gray!80!black, font=\fontsize{8.2}{9}\selectfont] (t20) at (224,1127) {合报不认可};
\node[tx, font=\fg] (t21) at (270,1124) {\bx{hlblu}{借：资本公积}};
\node[tx, font=\fg] (t22) at (280,1132) {\bx{gray!70!black}{贷：管理费用等（或借方）}};
\node[tx, font=\fg] (t23) at (290,1140) {\bx{hlgrn}{长期股权投资}};
\node[vt, font=\fontsize{5.2}{8}\selectfont\bfseries] (t24) at (171.5,1158) {合报认可\\分录};
\node[tx, text=black, font=\fg\bfseries] (t25) at (187,1150) {以权益结算};
\node[tx, font=\fg] (t26) at (187,1158) {\bx{hlora}{借：管理费用等}};
\node[tx, font=\fg] (t27) at (196,1167) {\bx{hlred}{贷：资本公积}};
\node[tx, text=black, font=\fg\bfseries] (t28) at (270,1150) {以现金结算};
\node[tx, font=\fg] (t29) at (270,1158) {\bx{hlora}{借：管理费用等}};
\node[tx, font=\fg] (t30) at (279,1167) {\bx{hlred}{贷：应付职工薪酬}};
\end{scope}
\draw[hlora, line width=.7pt] (t12.west) .. controls (180,1116) and (180,1146) .. (t26.west);
\draw[hlred, line width=.7pt] (t6.east) .. controls (270,1105) and (270,1140) .. (262,1152) .. controls (254,1160) and (245,1164) .. (t27.east);
\node[mk] (m11) at (360,1113) {};
\end{tikzpicture}
\end{document}
